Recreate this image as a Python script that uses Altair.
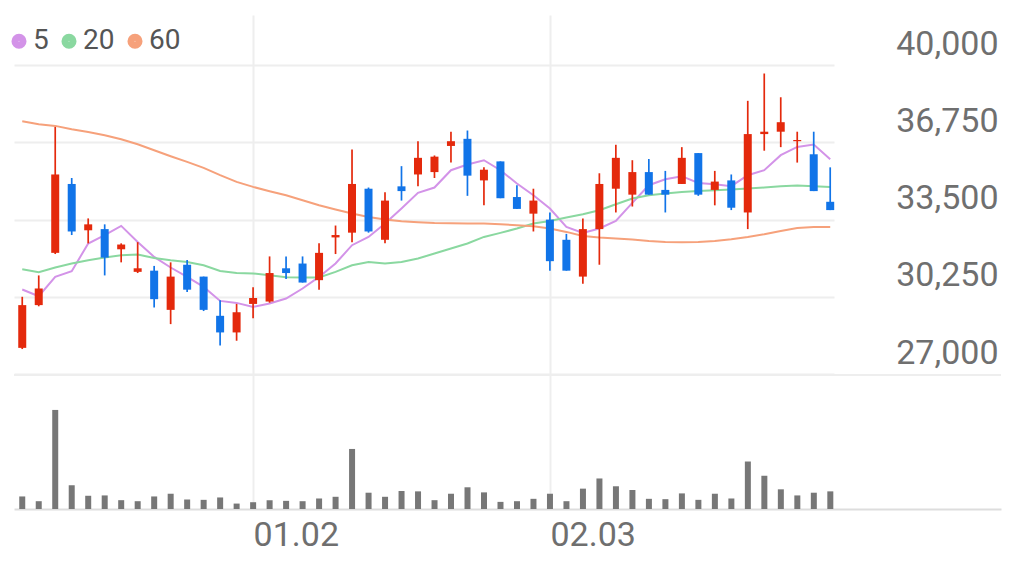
import altair as alt
import pandas as pd

# ---- data ----
idx = list(range(50))
opens = [28100, 29900, 32100, 35000, 33050, 33100, 32250, 31300, 31350, 29700,
         31600, 31100, 29450, 28750, 29950, 30050, 31450, 31650, 30950, 32750,
         32950, 34800, 32650, 34900, 35400, 35500, 36600, 36900, 35150, 35950,
         34450, 33750, 33500, 32650, 31100, 33100, 34800, 34550, 35500, 34750,
         35000, 36300, 34750, 35150, 33800, 37100, 37200, 36800, 36250, 34250]
highs = [30250, 31150, 37400, 35250, 33550, 33300, 32500, 32550, 31550, 31700,
         31800, 31100, 30100, 29950, 30650, 31950, 31950, 31950, 32500, 33250,
         36450, 34850, 34650, 35750, 36800, 36200, 37200, 37250, 35700, 35950,
         34950, 34800, 33800, 32900, 33550, 35450, 36650, 36000, 36050, 35550,
         36550, 36300, 35550, 35400, 38500, 39650, 38650, 37200, 37200, 35700]
lows = [28050, 29850, 32050, 32850, 32500, 31150, 31700, 31250, 29800, 29100,
        30450, 29650, 28200, 28400, 29350, 30000, 31000, 30850, 30550, 32050,
        32550, 32950, 32500, 34300, 34900, 35250, 35900, 34500, 34100, 34400,
        33950, 33000, 31350, 31350, 30800, 31600, 33800, 34050, 34550, 33800,
        35000, 34500, 34100, 33900, 33100, 36400, 36550, 35900, 34700, 33900]
closes = [29900, 30600, 35400, 33000, 33300, 31900, 32450, 31450, 30150, 31100,
          30550, 29700, 28750, 29600, 30200, 31250, 31250, 30850, 32100, 32850,
          35000, 33000, 34300, 34700, 36100, 36150, 36800, 35350, 35600, 34400,
          33950, 34300, 31750, 31350, 33100, 35000, 36100, 35500, 34550, 34550,
          36100, 34550, 35100, 34000, 37100, 37200, 37600, 36850, 34700, 33900]
volumes = [37, 23, 292, 70, 39, 40, 26, 23, 37, 45, 28, 27, 34, 16, 20, 26, 24,
           23, 31, 36, 177, 48, 36, 53, 52, 26, 45, 64, 49, 21, 23, 30, 45, 23,
           60, 90, 67, 56, 30, 29, 46, 27, 45, 31, 140, 98, 58, 40, 48, 52]
ma5 = [30557, 30275, 31087, 31327, 32494, 32843, 33235, 32561, 31929, 31483,
       31087, 30666, 30077, 29993, 29824, 29968, 30178, 30599, 31087, 31652,
       32422, 32771, 33336, 33967, 34624, 34851, 35579, 35819, 36000, 35579,
       35020, 34527, 33967, 33192, 32940, 33125, 33445, 34203, 34948, 35201,
       35327, 35045, 34990, 34906, 35369, 35579, 36211, 36560, 36661, 36043]
ma20 = [31412, 31285, 31483, 31652, 31790, 31904, 32001, 32030, 31887, 31790,
        31719, 31580, 31340, 31256, 31231, 31159, 31075, 31062, 31062, 31298,
        31580, 31719, 31652, 31719, 31862, 32073, 32283, 32494, 32771, 32940,
        33125, 33336, 33445, 33588, 33727, 33895, 34148, 34388, 34527, 34599,
        34666, 34708, 34737, 34767, 34809, 34851, 34906, 34935, 34906, 34876]
ma60 = [37642, 37516, 37445, 37306, 37192, 37053, 36885, 36674, 36421, 36169,
        35929, 35676, 35369, 35087, 34876, 34695, 34527, 34316, 34106, 33925,
        33757, 33613, 33504, 33432, 33390, 33361, 33348, 33334, 33334, 33306,
        33264, 33222, 33125, 32982, 32814, 32746, 32704, 32662, 32603, 32561,
        32548, 32561, 32603, 32675, 32771, 32885, 33024, 33150, 33192, 33192]
y_ticks = [27000, 30250, 33500, 36750, 40000]
x_tick_idx = [14, 32]
x_tick_labels = ["01.02", "02.03"]
ma_names = ["5", "20", "60"]

# ---- styles ----
ma_colors = ["#D393E8", "#8AD8A0", "#F6A17B"]
RED = "#E4290C"
BLUE = "#1174E8"
GRID = "#eeeeee"
LABEL = "#6f6f6f"
FONT = "Roboto"

df = pd.DataFrame(dict(i=idx, open=opens, high=highs, low=lows,
                       close=closes, vol=volumes))
ma_df = pd.concat([pd.DataFrame({"i": idx, "v": s, "ma": n})
                   for n, s in zip(ma_names, [ma5, ma20, ma60])])

label_expr = " : ".join(f"datum.value == {v} ? '{t}'" for v, t in
                        zip(x_tick_idx, x_tick_labels)) + " : ''"

x_axis_price = alt.Axis(values=x_tick_idx, grid=True, gridColor=GRID, gridWidth=2,
                        labels=False, ticks=False, domain=False, title=None)
x_price = alt.X("i:Q", scale=alt.Scale(domain=[-0.5, 49.23], nice=False, zero=False,
                                       padding=0),
                axis=x_axis_price)
y_scale = alt.Scale(domain=[27000, 42113], nice=False, zero=False)
y_axis = alt.Axis(orient="right", values=y_ticks,
                  labelExpr="format(datum.value, ',')", grid=True,
                  gridColor=GRID, gridWidth=2, ticks=False, domain=False,
                  labelAlign="right", labelPadding=164, labelBaseline="alphabetic",
                  labelOffset=-11, labelFontSize=34, labelFont=FONT,
                  labelColor=LABEL, title=None)

candle_color = alt.condition("datum.close >= datum.open", alt.value(RED), alt.value(BLUE))

legend = alt.Legend(orient="none", legendX=0, legendY=12,
                    direction="horizontal", title=None,
                    symbolType="circle", symbolSize=50,
                    symbolStrokeWidth=8, symbolOffset=-9, symbolOpacity=1,
                    labelFontSize=28, labelFont=FONT, labelColor="#555555",
                    labelOffset=0, columnPadding=0, padding=0)

lines = alt.Chart(ma_df).mark_line(strokeWidth=2).encode(
    x=x_price,
    y=alt.Y("v:Q", scale=y_scale, axis=y_axis),
    color=alt.Color("ma:N", scale=alt.Scale(domain=ma_names, range=ma_colors),
                    legend=legend),
    detail="ma:N",
)

wicks = alt.Chart(df).mark_rule(strokeWidth=1.7).encode(
    x=x_price, y=alt.Y("low:Q", scale=y_scale, axis=y_axis), y2="high:Q",
    color=candle_color)

bodies = alt.Chart(df).mark_bar(size=8).encode(
    x=x_price, y=alt.Y("open:Q", scale=y_scale, axis=y_axis), y2="close:Q",
    color=candle_color)

price = alt.layer(lines, wicks, bodies).properties(width=820, height=359)

vol_bars = alt.Chart(df).mark_bar(size=6, color="#777777").encode(
    x=alt.X("i:Q", scale=alt.Scale(domain=[-0.5, 59.35], nice=False, zero=False,
                                   padding=0),
            axis=alt.Axis(values=x_tick_idx, labelExpr=label_expr, grid=True,
                          gridColor=GRID, gridWidth=2, ticks=False, tickSize=0,
                          domain=True, domainColor="#dddddd", domainWidth=2,
                          labelAlign="left", labelBaseline="alphabetic",
                          labelPadding=36, labelFontSize=34, labelFont=FONT,
                          labelColor=LABEL, title=None, labelFlush=False)),
    y=alt.Y("vol:Q", scale=alt.Scale(domain=[0, 395], nice=False), axis=None),
)
top_line = alt.Chart(pd.DataFrame({"a": [0]})).mark_rule(
    color=GRID, strokeWidth=2).encode(x=alt.value(0), x2=alt.value(987), y=alt.value(0))

volume = alt.layer(vol_bars, top_line).properties(width=987, height=134)

chart = alt.vconcat(price, volume, spacing=0).properties(
    padding={"left": 5, "top": 7, "right": 5, "bottom": 5}
).configure_view(strokeWidth=0)

chart.save("out.html", embed_options={"renderer": "svg", "actions": False})
